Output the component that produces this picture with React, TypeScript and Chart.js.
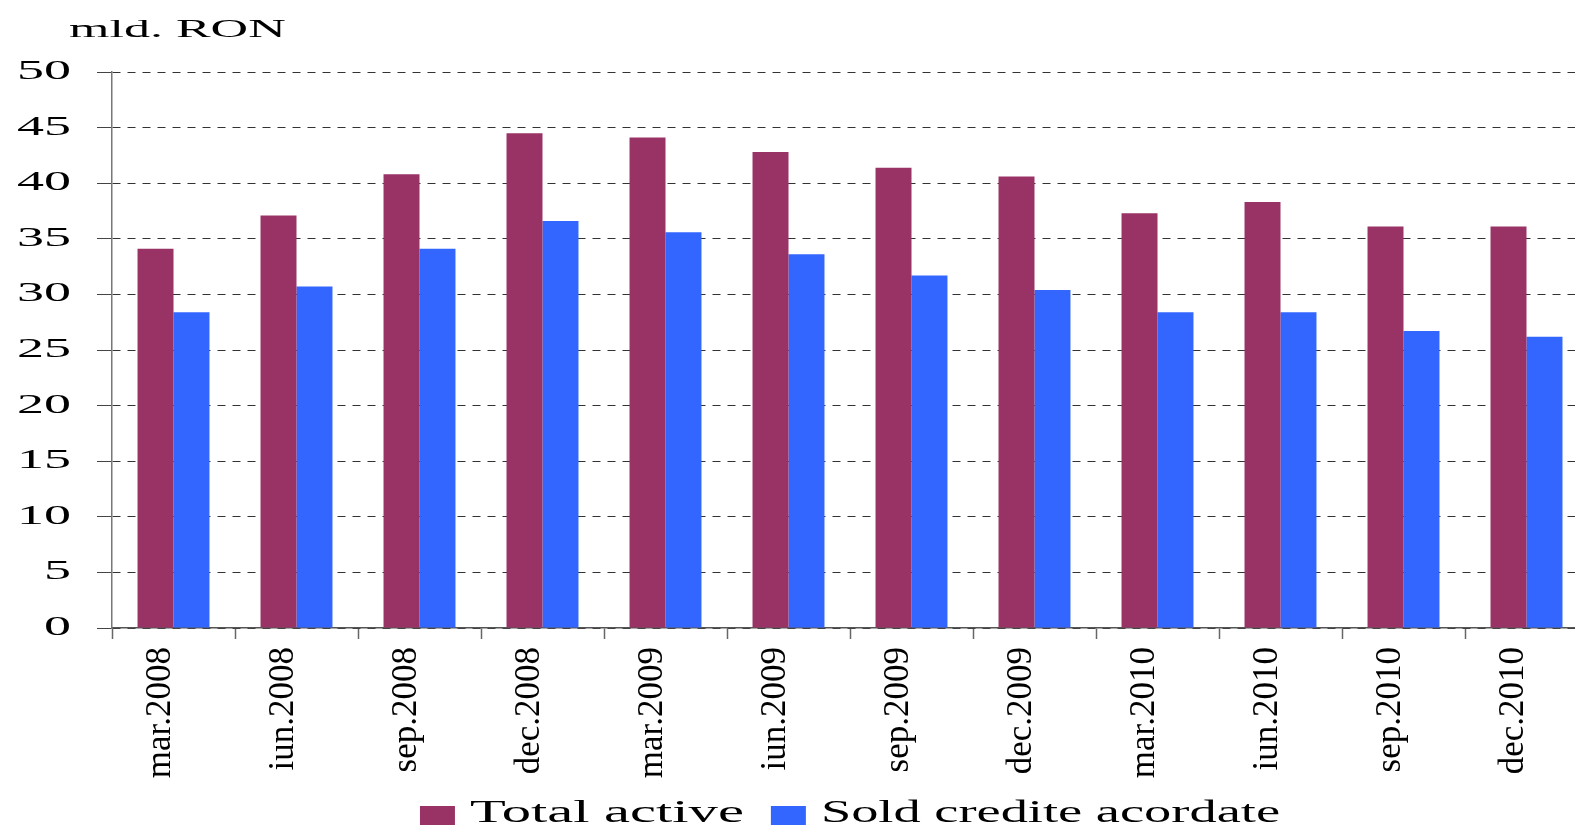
import React, { useEffect, useRef } from "react";
import { Chart, registerables } from "chart.js";

Chart.register(...registerables);

const categories = [
  "mar.2008", "iun.2008", "sep.2008", "dec.2008",
  "mar.2009", "iun.2009", "sep.2009", "dec.2009",
  "mar.2010", "iun.2010", "sep.2010", "dec.2010",
];
const totalActive = [34.1, 37.1, 40.8, 44.5, 44.1, 42.8, 41.4, 40.6, 37.3, 38.3, 36.1, 36.1];
const soldCredite = [28.4, 30.7, 34.1, 36.6, 35.6, 33.6, 31.7, 30.4, 28.4, 28.4, 26.7, 26.2];
const seriesNames = ["Total active", "Sold credite acordate"];
const unitLabel = "mld. RON";

const MAROON = "#993366";
const BLUE = "#3366FF";
const SERIF = '"Liberation Serif", "Times New Roman", serif';
const LEGEND_STRETCH = [1.83, 1.7];

const stretchedText = {
  id: "stretchedText",
  afterDraw(chart: any) {
    const { ctx, chartArea, scales } = chart;
    const y = scales.y;
    ctx.save();
    ctx.fillStyle = "#000";

    // y tick labels (horizontally stretched)
    ctx.font = `27px ${SERIF}`;
    ctx.textAlign = "right";
    ctx.textBaseline = "middle";
    y.ticks.forEach((t: any) => {
      const py = y.getPixelForValue(t.value);
      ctx.save();
      ctx.translate(chartArea.left - 41, py);
      ctx.scale(2.0, 1);
      ctx.fillText(String(t.value), 0, 0);
      ctx.restore();
    });

    // unit label
    ctx.font = `26px ${SERIF}`;
    ctx.textAlign = "left";
    ctx.textBaseline = "alphabetic";
    ctx.save();
    ctx.translate(chartArea.left - 43, chartArea.top - 35);
    ctx.scale(2.0, 1);
    ctx.fillText(unitLabel, 0, 0);
    ctx.restore();

    // legend
    ctx.font = `32px ${SERIF}`;
    const boxW = 35, boxH = 19, gapBox = 15, gapItem = 27;
    const ds = chart.data.datasets;
    const widths = ds.map((d: any, i: number) => ctx.measureText(d.label).width * LEGEND_STRETCH[i]);
    let total = 0;
    widths.forEach((w: number, i: number) => {
      total += boxW + gapBox + w + (i < widths.length - 1 ? gapItem : 0);
    });
    let x = (chartArea.left + chartArea.right) / 2 - total / 2;
    const H = chart.height;
    const boxTop = H - 22;
    const baseline = H - 6;
    ds.forEach((d: any, i: number) => {
      ctx.fillStyle = d.backgroundColor;
      ctx.fillRect(x, boxTop, boxW, boxH);
      x += boxW + gapBox;
      ctx.fillStyle = "#000";
      ctx.save();
      ctx.translate(x, baseline);
      ctx.scale(LEGEND_STRETCH[i], 1);
      ctx.fillText(d.label, 0, 0);
      ctx.restore();
      x += widths[i] + gapItem;
    });
    ctx.restore();
  },
};

export default function App() {
  const ref = useRef<HTMLCanvasElement | null>(null);

  useEffect(() => {
    if (!ref.current) return;
    const chart = new Chart(ref.current, {
      type: "bar",
      data: {
        labels: categories,
        datasets: [
          { label: seriesNames[0], data: totalActive, backgroundColor: MAROON, borderWidth: 0 },
          { label: seriesNames[1], data: soldCredite, backgroundColor: BLUE, borderWidth: 0 },
        ],
      },
      options: {
        animation: false,
        responsive: false,
        devicePixelRatio: 1,
        layout: { padding: { top: 72, right: 12, left: 0, bottom: 0 } },
        datasets: { bar: { categoryPercentage: 0.585, barPercentage: 1 } },
        plugins: {
          legend: { display: false },
          title: { display: false },
          tooltip: { enabled: false },
        },
        scales: {
          x: {
            grid: {
              offset: true,
              drawOnChartArea: false,
              drawTicks: true,
              tickLength: 11,
              tickColor: "#666",
              tickWidth: 1.5,
            },
            border: { display: true, color: "#555", width: 1.5 },
            ticks: {
              maxRotation: 90,
              minRotation: 90,
              autoSkip: false,
              padding: 8,
              labelOffset: -13,
              color: "#000",
              font: { family: SERIF, size: 35 },
            },
            afterFit: (s: any) => {
              s.height = 200;
            },
          },
          y: {
            min: 0,
            max: 50,
            ticks: { stepSize: 5, color: "transparent", font: { family: SERIF, size: 27 } },
            grid: {
              color: "#333",
              lineWidth: 1,
              drawTicks: true,
              tickLength: 15,
              tickColor: "#444",
            },
            border: { display: true, color: "#777", width: 1.5, dash: [8, 7] },
            afterFit: (s: any) => {
              s.width = 112;
            },
          },
        },
      },
      plugins: [stretchedText],
    });
    return () => chart.destroy();
  }, []);

  return (
    <div
      style={{
        position: "fixed",
        left: 0,
        top: 0,
        width: 1575,
        height: 828,
        overflow: "hidden",
        background: "#fff",
      }}
    >
      <canvas ref={ref} width={1600} height={828} style={{ width: "1600px", height: "828px" }} />
    </div>
  );
}
